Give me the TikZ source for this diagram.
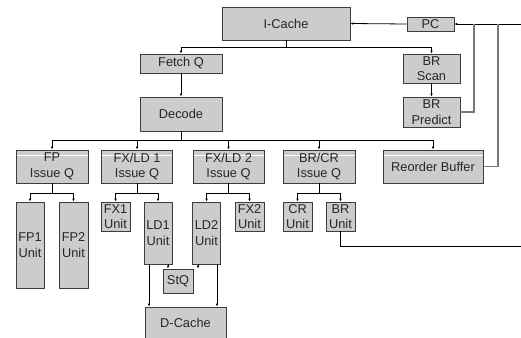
\documentclass[tikz,border=0pt]{standalone}
\usepackage{fontspec}
\setmainfont{Liberation Sans}
\usepackage{tikz}
\usetikzlibrary{arrows.meta}
\usetikzlibrary{positioning}
\definecolor{boxgray}{RGB}{204,204,204}
\definecolor{edgegray}{RGB}{60,60,60}
\definecolor{fbgray}{RGB}{120,120,120}
\tikzset{%
  unit/.style={draw=edgegray,fill=boxgray,line width=0.9pt,inner sep=0pt,align=center,
    font=\fontsize{12.8}{15.5}\selectfont,text=black!85},
  issueq/.style={unit,path picture={\draw[white,line width=0.9pt]
    ([yshift=-5pt]path picture bounding box.north west) --
    ([yshift=-5pt]path picture bounding box.north east);}},
  flow/.style={line width=0.8pt,-{Latex[length=3pt,width=2.6pt]}},
  wire/.style={line width=0.8pt},
  feedback/.style={line width=1.1pt,fbgray}
}

\begin{document}
\begin{tikzpicture}[x=1pt,y=-1pt]
  \useasboundingbox (0,0) rectangle (521,337);

  % front end
  \node[unit,minimum width=128pt,minimum height=33pt] (icache) at (286,23.5) {I-Cache};
  \node[unit,minimum width=47pt,minimum height=14pt] (pc) at (430.5,24) {PC};
  \node[unit,minimum width=82pt,minimum height=19pt] (fetchq) at (181,63.5) {Fetch Q};
  \node[unit,minimum width=82pt,minimum height=34pt] (decode) at (181,114) {Decode};
  \node[unit,minimum width=57pt,minimum height=29pt] (brscan) at (431.5,68.5) {BR\\Scan};
  \node[unit,minimum width=57pt,minimum height=30pt] (brpred) at (431.5,112) {BR\\Predict};

  % issue queues
  \node[issueq,minimum width=72pt,minimum height=33pt] (fpq) at (52,166.5) {FP\\Issue Q};
  \node[issueq,minimum width=71pt,minimum height=33pt] (fxq1) at (137,166.5) {FX/LD 1\\Issue Q};
  \node[issueq,minimum width=71pt,minimum height=33pt] (fxq2) at (228.5,166.5) {FX/LD 2\\Issue Q};
  \node[issueq,minimum width=72pt,minimum height=33pt] (brq) at (319,166.5) {BR/CR\\Issue Q};
  \node[issueq,minimum width=100pt,minimum height=33pt] (rob) at (433,166.5) {Reorder Buffer};

  % execution units
  \node[unit,minimum width=28pt,minimum height=86pt] (fp1) at (30,245) {FP1\\Unit};
  \node[unit,minimum width=29pt,minimum height=86pt] (fp2) at (73.5,245) {FP2\\Unit};
  \node[unit,minimum width=29pt,minimum height=29pt] (fx1) at (115.5,216.5) {FX1\\Unit};
  \node[unit,minimum width=28pt,minimum height=62pt] (ld1) at (158,233) {LD1\\Unit};
  \node[unit,minimum width=28pt,minimum height=62pt] (ld2) at (206.5,233) {LD2\\Unit};
  \node[unit,minimum width=29pt,minimum height=29pt] (fx2) at (249.5,216.5) {FX2\\Unit};
  \node[unit,minimum width=29pt,minimum height=29pt] (cr) at (297.5,216.5) {CR\\Unit};
  \node[unit,minimum width=29pt,minimum height=29pt] (bru) at (340.5,216.5) {BR\\Unit};
  \node[unit,minimum width=30pt,minimum height=24pt] (stq) at (178,281) {StQ};
  \node[unit,minimum width=81pt,minimum height=31pt] (dcache) at (185.5,322.5) {D-Cache};

  % outside ends
  \coordinate (rin) at (521,24);
  \coordinate (j1) at (474,24);
  \coordinate (j2) at (498,24);
  \coordinate (brout) at (521,246);

  % fetch path
  \draw[flow] (rin) -- (pc.east);
  \draw[flow] (pc.west) -- (icache.east);
  \draw[flow] (icache.south) -- ++(0,7) -| (fetchq.north);
  \draw[flow] (icache.south) -- ++(0,7) -| (brscan.north);
  \draw[flow] (fetchq) -- (decode);
  \draw[flow] (brscan) -- (brpred);
  \draw[feedback] (brpred.east) -| (j1);
  \draw[feedback] (rob.east) -| (j2);

  % dispatch
  \foreach \q in {fpq,fxq1,fxq2,brq,rob}
    \draw[flow] (decode.south) -- ++(0,9) -| (\q.north);
  \draw[flow] (fpq.south) -- ++(0,9.5) -| (fp1.north);
  \draw[flow] (fpq.south) -- ++(0,9.5) -| (fp2.north);
  \draw[flow] (fxq1.south) -- ++(0,9.5) -| (fx1.north);
  \draw[flow] (fxq1.south) -- ++(0,9.5) -| (ld1.north);
  \draw[flow] (fxq2.south) -- ++(0,9.5) -| (ld2.north);
  \draw[flow] (fxq2.south) -- ++(0,9.5) -| (fx2.north);
  \draw[flow] (brq.south) -- ++(0,9.5) -| (cr.north);
  \draw[flow] (brq.south) -- ++(0,9.5) -| (bru.north);

  % load/store
  \draw[flow] ([xshift=10pt]ld1.south) -- ([xshift=10pt]ld1.south |- stq.north);
  \draw[flow] ([xshift=-8.5pt]ld2.south) -- ([xshift=-8.5pt]ld2.south |- stq.north);
  \draw[flow] ([xshift=-9pt]ld1.south) -- ([xshift=-9pt]ld1.south |- dcache.north);
  \draw[flow] ([xshift=10.5pt]ld2.south) -- ([xshift=10.5pt]ld2.south |- dcache.north);
  \draw[wire] (bru.south) |- (brout);
\end{tikzpicture}
\end{document}
